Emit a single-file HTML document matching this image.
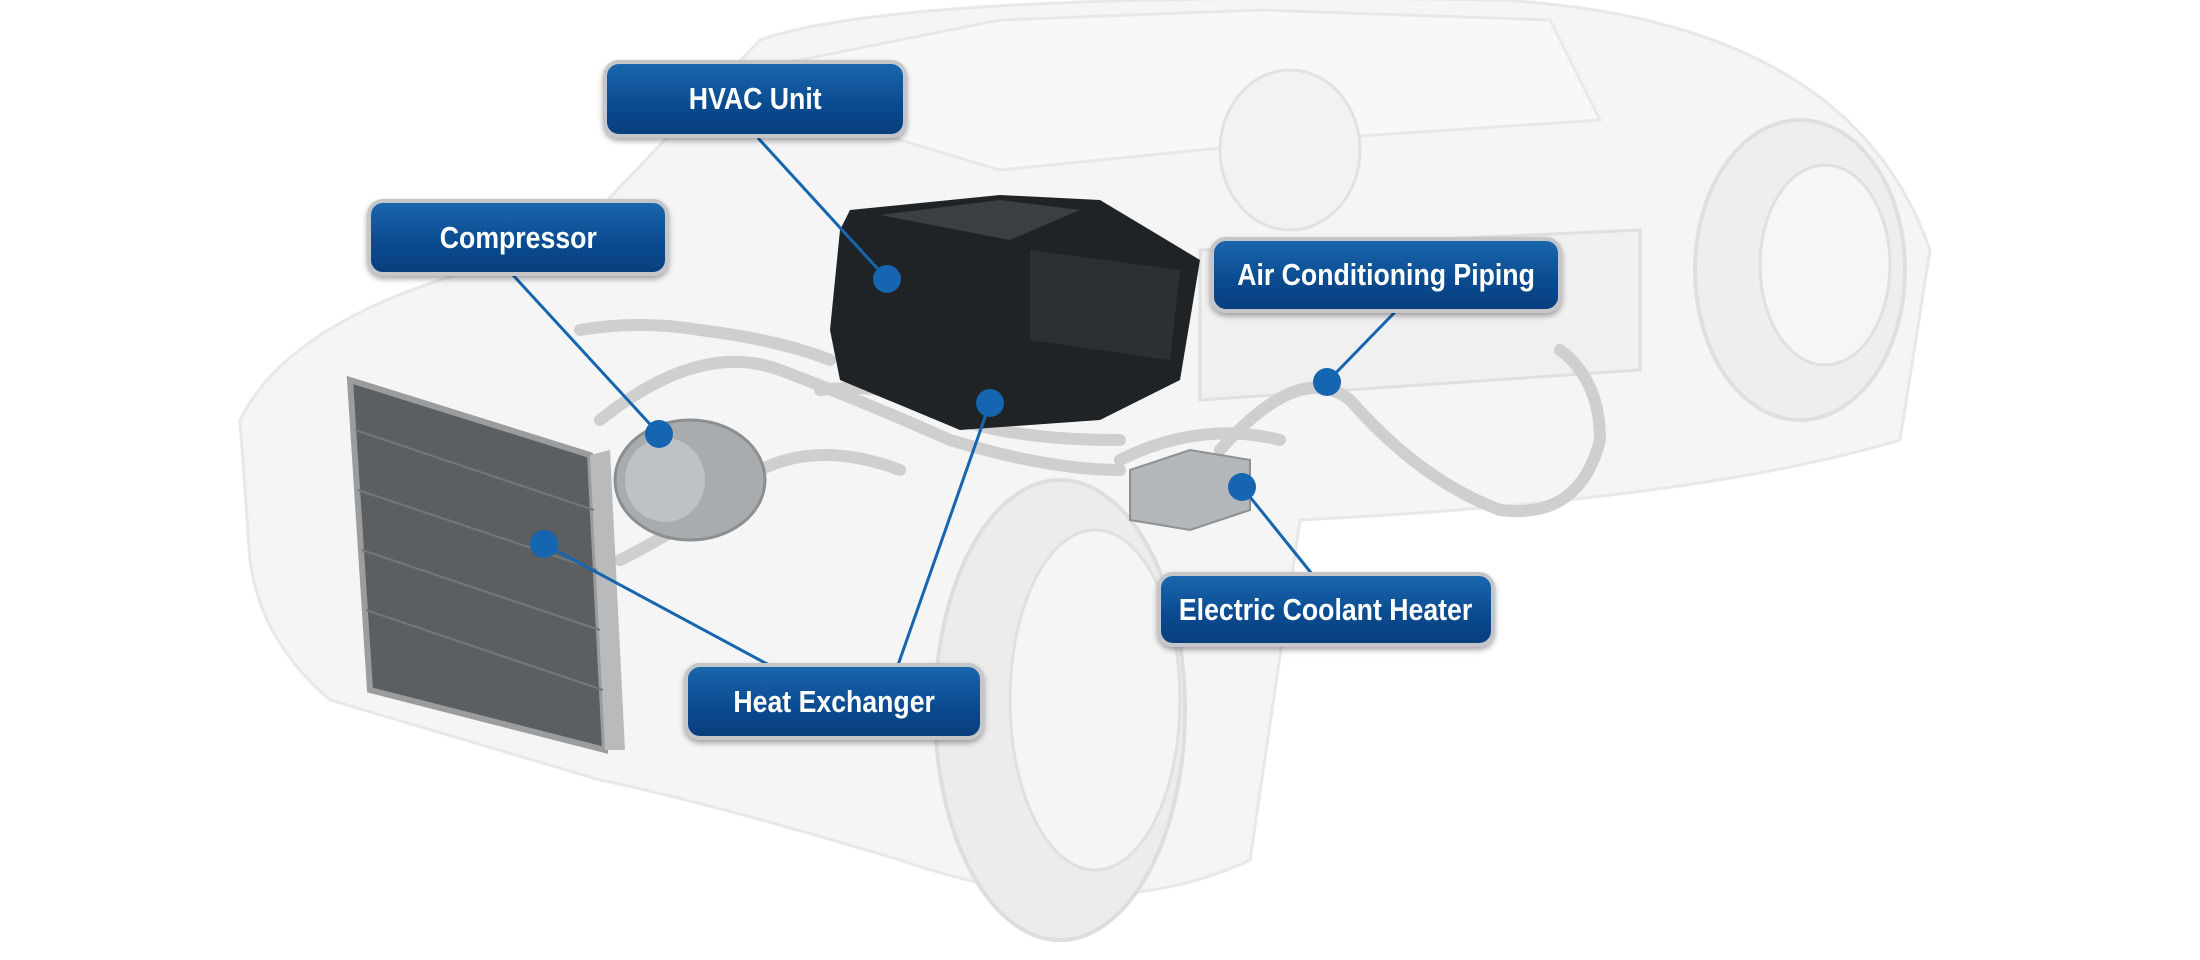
<!DOCTYPE html>
<html><head><meta charset="utf-8"><style>
html,body{margin:0;padding:0;background:#fff;}
.wrap{position:relative;width:2200px;height:960px;overflow:hidden;background:#fff;}
svg{position:absolute;left:0;top:0;}
.lbl{position:absolute;box-sizing:border-box;border:4px solid #c4c6c9;border-radius:16px;background:linear-gradient(#1a66ad,#0a4a8f 60%,#083f7d);color:#fff;font-family:"Liberation Sans",sans-serif;font-weight:bold;font-size:31px;display:flex;align-items:center;justify-content:center;box-shadow:0 3px 6px rgba(0,0,0,.35);white-space:nowrap;}
.lbl span{display:inline-block;transform:scaleX(0.86);}
</style></head><body><div class="wrap">
<svg width="2200" height="960" viewBox="0 0 2200 960">
<path d="M240 420 Q300 300 560 250 L760 40 Q900 -10 1500 0 Q1850 20 1930 250 L1900 440 Q1700 500 1300 520 L1250 860 Q1100 930 900 860 Q700 800 600 780 L330 700 Q260 640 250 560 Z" fill="#f5f5f5" stroke="#e8e8e8" stroke-width="3"/>
<path d="M700 80 L1000 20 L1260 10 L1550 20 L1600 120 L1300 140 L1000 170 Z" fill="#f8f8f8" stroke="#e8e8e8" stroke-width="3"/>
<ellipse cx="1060" cy="710" rx="125" ry="230" fill="#ececec" stroke="#dedede" stroke-width="4"/>
<ellipse cx="1095" cy="700" rx="85" ry="170" fill="#f5f5f5" stroke="#e0e0e0" stroke-width="3"/>
<ellipse cx="1800" cy="270" rx="105" ry="150" fill="#eeeeee" stroke="#dfdfdf" stroke-width="4"/>
<ellipse cx="1825" cy="265" rx="65" ry="100" fill="#f6f6f6" stroke="#e0e0e0" stroke-width="3"/>
<ellipse cx="1290" cy="150" rx="70" ry="80" fill="#f2f2f2" stroke="#e2e2e2" stroke-width="3"/>
<path d="M1200 250 L1640 230 L1640 370 L1200 400 Z" fill="#f0f0f0" stroke="#e0e0e0" stroke-width="3"/>
<g fill="none" stroke="#cfcfcf" stroke-width="12" stroke-linecap="round">
<path d="M600 420 Q700 340 780 370 Q860 400 950 440 Q1050 470 1120 470"/>
<path d="M1220 450 Q1300 360 1350 400 Q1420 480 1500 510 Q1580 520 1600 440 Q1600 380 1560 350"/>
<path d="M620 560 Q700 520 760 470 Q820 440 900 470"/>
<path d="M580 330 Q640 320 700 330 Q780 340 830 360"/>
<path d="M820 390 Q900 380 960 420 Q1020 440 1120 440"/>
<path d="M1120 460 Q1200 420 1280 440"/>
</g>
<path d="M850 210 L1000 195 L1100 200 L1200 260 L1180 380 L1100 420 L960 430 L840 380 L830 330 L840 230 Z" fill="#1f2326"/>
<path d="M880 215 L1000 200 L1080 210 L1010 240 Z" fill="#3a3f43"/>
<path d="M1030 250 L1180 270 L1170 360 L1030 340 Z" fill="#2b3034"/>
<ellipse cx="690" cy="480" rx="75" ry="60" fill="#a9acae" stroke="#8c8f91" stroke-width="3"/>
<ellipse cx="665" cy="480" rx="40" ry="42" fill="#bfc2c4"/>
<path d="M1130 470 L1190 450 L1250 460 L1250 510 L1190 530 L1130 520 Z" fill="#b4b7b9" stroke="#8e9193" stroke-width="2"/>
<path d="M350 380 L590 455 L605 750 L370 690 Z" fill="#5b5f62" stroke="#9a9c9e" stroke-width="6"/>
<path d="M590 455 L610 450 L625 750 L605 750 Z" fill="#b8babc"/>
<g stroke="#74787b" stroke-width="2">
<line x1="355" y1="430" x2="594" y2="510"/><line x1="358" y1="490" x2="597" y2="570"/><line x1="362" y1="550" x2="600" y2="630"/><line x1="366" y1="610" x2="603" y2="690"/>
</g>
<g stroke="#1565b0" stroke-width="3" fill="none">
<line x1="758" y1="138" x2="887" y2="279"/>
<line x1="512" y1="274" x2="659" y2="434"/>
<line x1="1396" y1="311" x2="1327" y2="382"/>
<line x1="1242" y1="487" x2="1312" y2="574"/>
<line x1="544" y1="544" x2="769" y2="665"/>
<line x1="990" y1="403" x2="898" y2="665"/>
</g>
<g fill="#1565b0">
<circle cx="887" cy="279" r="14"/><circle cx="659" cy="434" r="14"/><circle cx="1327" cy="382" r="14"/><circle cx="1242" cy="487" r="14"/><circle cx="544" cy="544" r="14"/><circle cx="990" cy="403" r="14"/>
</g>
</svg>
<div class="lbl" style="left:603px;top:60px;width:304px;height:78px;"><span>HVAC Unit</span></div>
<div class="lbl" style="left:367px;top:199px;width:302px;height:77px;"><span>Compressor</span></div>
<div class="lbl" style="left:1210px;top:237px;width:352px;height:76px;"><span>Air Conditioning Piping</span></div>
<div class="lbl" style="left:1157px;top:572px;width:338px;height:75px;"><span>Electric Coolant Heater</span></div>
<div class="lbl" style="left:684px;top:663px;width:300px;height:77px;"><span>Heat Exchanger</span></div>
</div></body></html>
